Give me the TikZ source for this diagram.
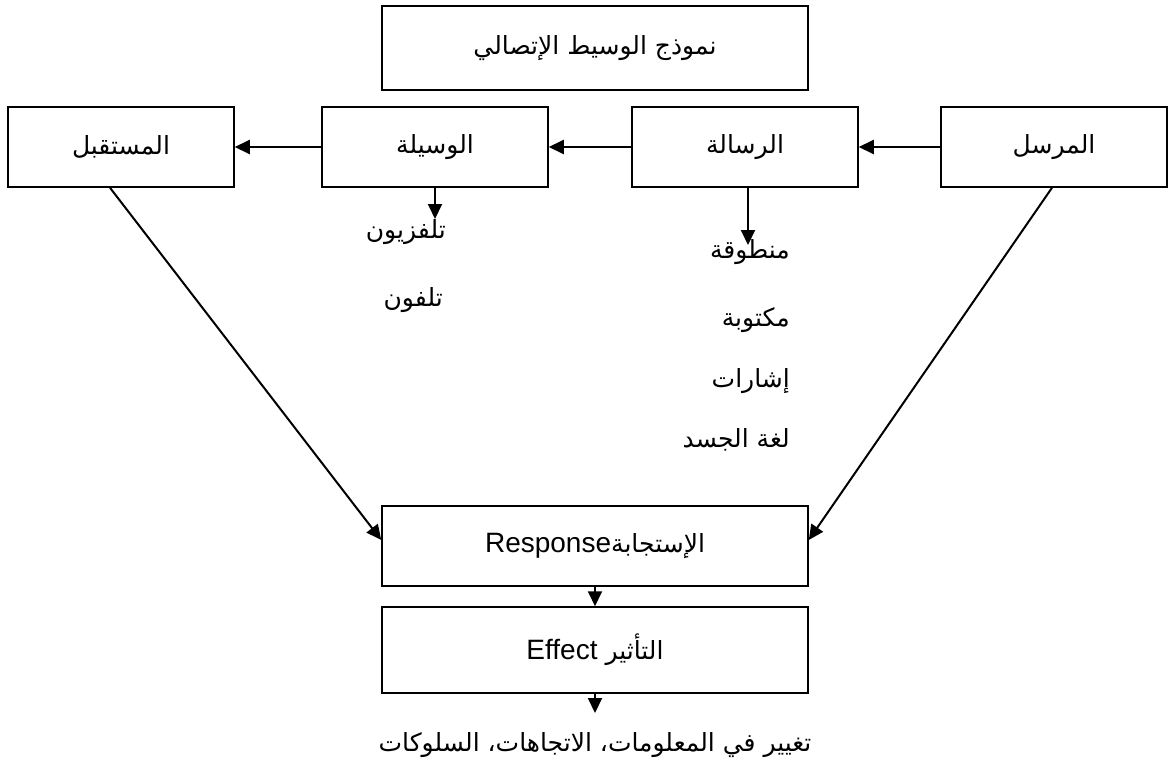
\documentclass[tikz,border=0pt]{standalone}
\usepackage{fontspec}
\setmainfont{Liberation Sans}
\newfontfamily\arabicfont[Script=Arabic]{DejaVu Sans}
\TeXXeTstate=1
\usetikzlibrary{arrows.meta}
\newcommand{\artext}[1]{{\arabicfont\beginR #1\endR}}
\newcommand{\lattext}[1]{\beginL{\normalfont\fontsize{28}{30}\selectfont #1}\endL}

\tikzset{
  box/.style={draw, line width=1.5pt, minimum width=226pt, minimum height=80pt, inner sep=0pt, font=\fontsize{25}{29}\selectfont},
  widebox/.style={box, minimum width=426pt},
  item/.style={inner sep=0pt, anchor=east, font=\fontsize{25}{29}\selectfont},
  arr/.style={line width=2pt, -{Triangle[length=15pt,width=14pt]}}
}

\begin{document}
\begin{tikzpicture}[x=1pt,y=-1pt]
    \useasboundingbox (0,0) rectangle (1168,774);
    % title
    \node [widebox, minimum height=84pt] (title) at (595,48) {\artext{نموذج الوسيط الإتصالي}};
    % main row
    \node [box] (mustaqbil) at (121,147) {\artext{المستقبل}};
    \node [box] (wasila) at (435,147) {\artext{الوسيلة}};
    \node [box] (risala) at (745,147) {\artext{الرسالة}};
    \node [box] (mursil) at (1054,147) {\artext{المرسل}};
    \draw [arr] (mursil.west) -- (risala.east);
    \draw [arr] (risala.west) -- (wasila.east);
    \draw [arr] (wasila.west) -- (mustaqbil.east);
    % media and message types
    \coordinate (wtip) at (435,219);
    \coordinate (rtip) at (748,245);
    \draw [arr] (wasila.south) -- (wtip);
    \draw [arr] (risala.south -| rtip) -- (rtip);
    \node [item] (tv) at (446,232) {\artext{تلفزيون}};
    \node [item] (phone) at (443,300) {\artext{تلفون}};
    \node [item] (spoken) at (790,252) {\artext{منطوقة}};
    \node [item] (written) at (790,320) {\artext{مكتوبة}};
    \node [item] (signs) at (790,381) {\artext{إشارات}};
    \node [item] (body) at (790,440) {\artext{لغة الجسد}};
    % response and effect
    \node [widebox] (resp) at (595,546) {\artext{الإستجابة\lattext{Response}}};
    \node [widebox, minimum height=86pt] (effect) at (595,650) {\artext{التأثير \lattext{Effect}}};
    \coordinate (etip) at (595,713);
    \node [inner sep=0pt, font=\fontsize{25}{29}\selectfont] (change) at (595,745) {\artext{تغيير في المعلومات، الاتجاهات، السلوكات}};
    \draw [arr] ([xshift=-11pt]mustaqbil.south) -- ([yshift=6pt]resp.west);
    \draw [arr] ([xshift=-2pt]mursil.south) -- ([yshift=6pt]resp.east);
    \draw [arr] (resp.south) -- (effect.north);
    \draw [arr] (effect.south) -- (etip);
\end{tikzpicture}
\end{document}
